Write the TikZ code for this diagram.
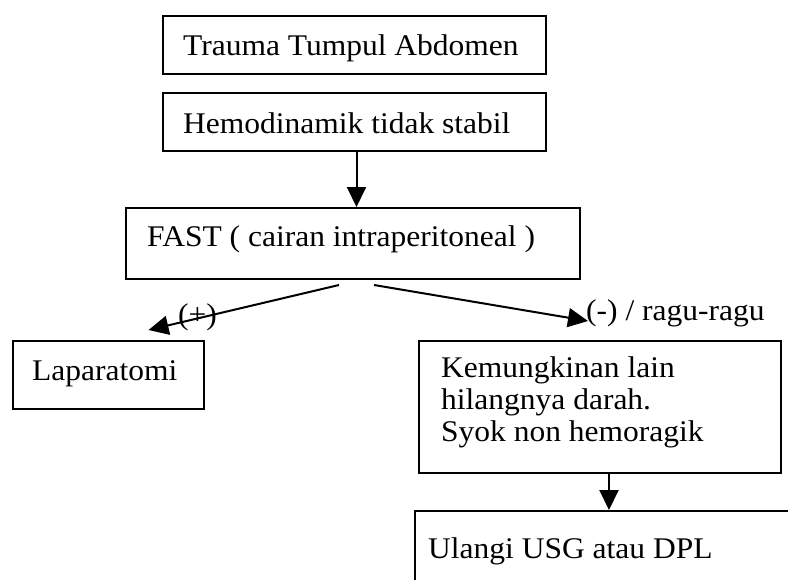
\documentclass[tikz,border=0pt]{standalone}
\usepackage{fontspec}
\setmainfont{Liberation Serif}[FakeStretch=1.05]
\usetikzlibrary{arrows.meta}
\begin{document}
\begin{tikzpicture}[x=1pt,y=-1pt,
  every node/.style={font=\fontsize{30}{32}\selectfont},
  box/.style={draw, line width=2pt, rectangle, inner sep=0pt, anchor=north west},
  txt/.style={inner sep=0pt, anchor=base west},
  arr/.style={line width=2pt, -{Triangle[length=20pt,width=19pt]}}
]
\useasboundingbox (0,0) rectangle (788,579);
\clip (0,0) rectangle (788,579);

% boxes
\node[box, minimum width=383pt, minimum height=58pt] (trauma) at (162,15) {};
\node[box, minimum width=383pt, minimum height=58pt] (hemo) at (162,92) {};
\node[box, minimum width=454pt, minimum height=71pt] (fast) at (125,207) {};
\node[box, minimum width=191pt, minimum height=68pt] (lapar) at (12,340) {};
\node[box, minimum width=362pt, minimum height=132pt] (kemung) at (418,340) {};
\node[box, minimum width=420pt, minimum height=110pt] (ulangi) at (414,510) {};

% texts
\node[txt] (trauma-t) at (183,55) {Trauma Tumpul Abdomen};
\node[txt] (hemo-t) at (183,133) {Hemodinamik tidak stabil};
\node[txt] (fast-t) at (147,246) {FAST ( cairan intraperitoneal )};
\node[txt] (lapar-t) at (32,380) {Laparatomi};
\node[txt] (kemung-t1) at (441,377) {Kemungkinan lain};
\node[txt] (kemung-t2) at (441,409) {hilangnya darah.};
\node[txt] (kemung-t3) at (441,441) {Syok non hemoragik};
\node[txt] (ulangi-t) at (428,558) {Ulangi USG atau DPL};

% connectors
\draw[arr] ([xshift=2pt]hemo.south) -- ([xshift=2pt]hemo.south |- fast.north);
\draw[arr] ([shift={(-14pt,-5pt)}]fast.south) -- ([shift={(40pt,10pt)}]lapar.north);
\draw[arr] ([shift={(21pt,-5pt)}]fast.south) -- ([shift={(-12pt,19pt)}]kemung.north);
\draw[arr] ([xshift=9pt]kemung.south) -- ([xshift=9pt]kemung.south |- ulangi.north);

% branch labels
\node[txt] (plus) at (178,324) {(+)};
\node[txt] (minus) at (586,320) {(-) / ragu-ragu};
\end{tikzpicture}
\end{document}
